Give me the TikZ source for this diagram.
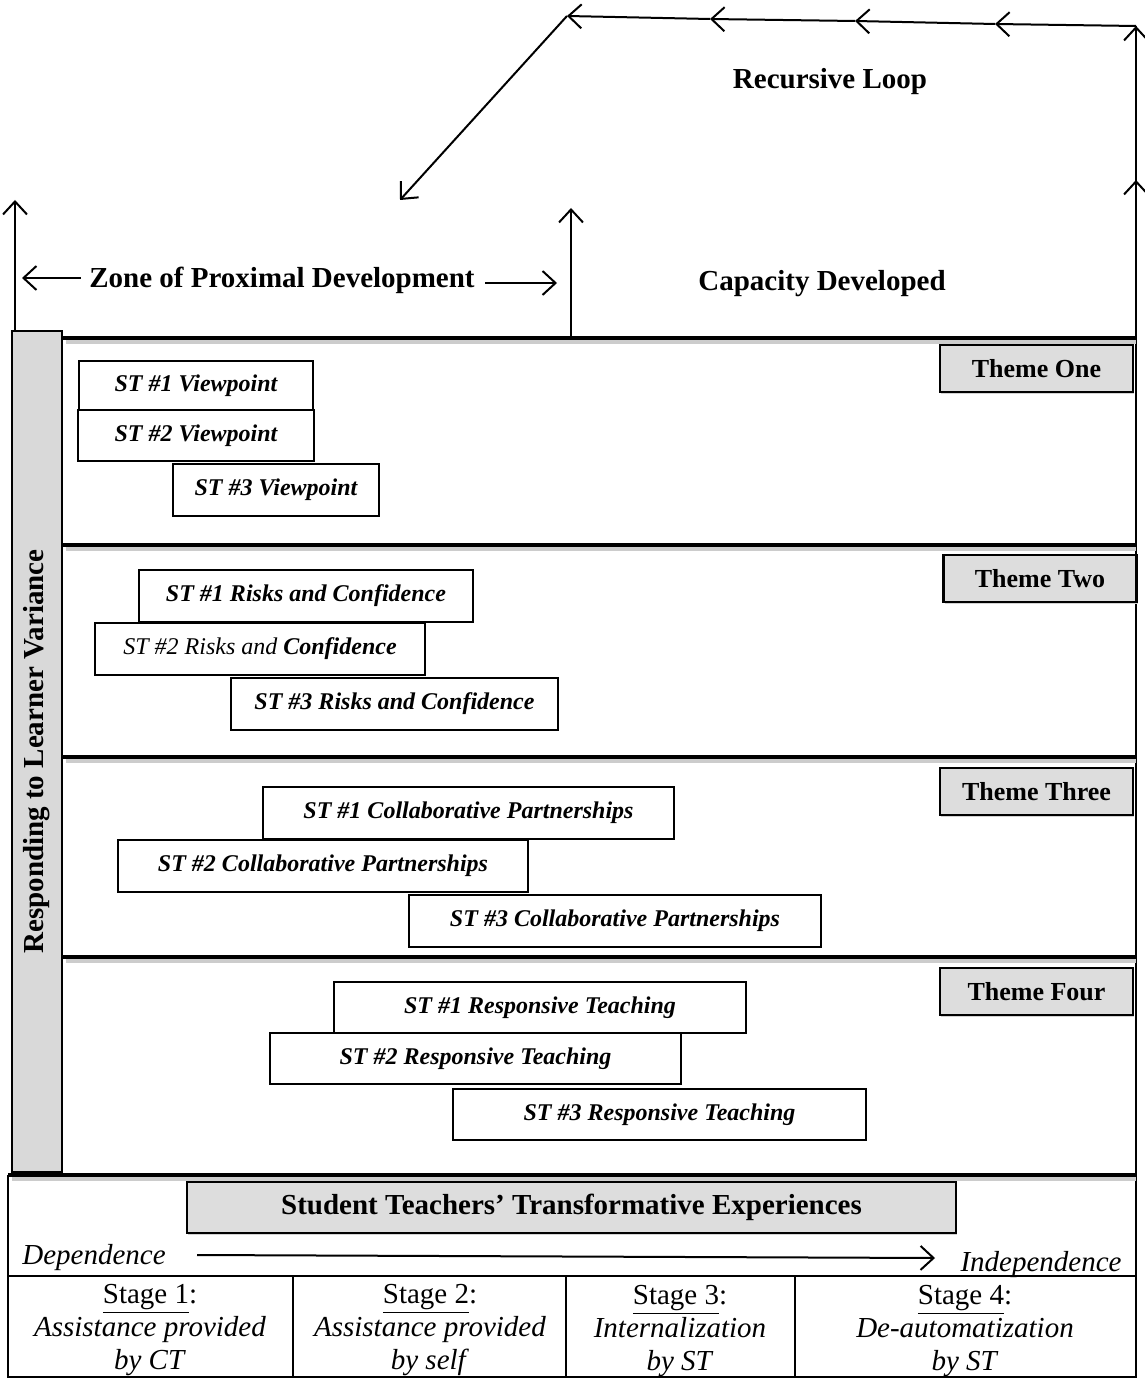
\documentclass[tikz,border=0pt]{standalone}
\usepackage{fontspec}
\setmainfont{Liberation Serif}
\usetikzlibrary{arrows.meta,shadows}
\begin{document}
\begin{tikzpicture}[x=0.5pt,y=-0.5pt,
  arr/.style={line width=1pt,-{Straight Barb[length=6.5pt,width=12pt,line width=1pt]}},
  plain/.style={line width=0.8pt},
  bigtxt/.style={font=\fontsize{14.5}{17}\selectfont\bfseries,inner sep=0pt},
  stbox/.style={draw,line width=1pt,fill=white,font=\fontsize{12}{14}\selectfont\bfseries\itshape,inner sep=0pt},
  themebox/.style={draw,line width=1.1pt,fill=gray!27,font=\fontsize{13}{15}\selectfont\bfseries,inner sep=0pt,
    minimum width=96.5pt,minimum height=23.5pt,drop shadow={shadow xshift=0.6pt,shadow yshift=-1.2pt,fill=gray!35,opacity=1}},
  sepline/.style={line width=2pt},
  sepshadow/.style={line width=1.6pt,gray!40},
  stagetxt/.style={font=\fontsize{14.5}{16.5}\selectfont,align=center,inner sep=0pt},
  ittxt/.style={font=\fontsize{14.5}{16.5}\selectfont\itshape,inner sep=0pt}
]
\useasboundingbox (0,0) rectangle (1144,1379);

% ---------- top labels ----------
\node[bigtxt] (rl) at (830,82) {Recursive Loop};
\node[bigtxt] (zpd) at (282,280) {Zone of Proximal Development};
\node[bigtxt] (cd) at (822,284) {Capacity Developed};

% ---------- loop coordinates ----------
\coordinate (rb) at (1136,338);
\coordinate (rm) at (1136,180);
\coordinate (rt) at (1136,26);
\coordinate (h1) at (995,24);
\coordinate (h2) at (855,21);
\coordinate (h3) at (710,19);
\coordinate (tl) at (567,16);
\coordinate (dg) at (400,200);
\coordinate (mb) at (571,338);
\coordinate (mt) at (571,208);
\coordinate (lb) at (15,331);
\coordinate (lt) at (15,200);
\coordinate (zl) at (22,278);
\coordinate (zr) at (557,283);

\draw[arr] (rb) -- (rm);
\draw[arr] (rm) -- (rt);
\draw[arr] (rt) -- (h1);
\draw[arr] (h1) -- (h2);
\draw[arr] (h2) -- (h3);
\draw[arr] (h3) -- (tl);
\draw[arr] (tl) -- (dg);
\draw[arr] (mb) -- (mt);
\draw[arr] (lb) -- (lt);
\draw[arr] ([xshift=-4pt]zpd.west |- zl) -- (zl);
\draw[arr] ([xshift=5pt]zpd.east |- zr) -- (zr);

% ---------- frame ----------
\draw[plain] (1136,26) -- (1136,1377);
\draw[plain] (8,1175) -- (8,1377) -- (1137,1377);

% separators
\foreach \yy/\xa in {338/62,545/62,757/62,957/62,1175/8}{
  \draw[sepshadow] (\xa+4,\yy+4) -- (1136,\yy+4);
  \draw[sepline] (\xa,\yy) -- (1137,\yy);
}

% left bar
\node[draw,line width=1pt,fill=gray!30,minimum width=25pt,minimum height=420.5pt,inner sep=0pt] (lbar) at (37,751.5) {};
\node[bigtxt,rotate=90] (rlv) at (lbar.center) {Responding to Learner Variance};

% ---------- theme labels ----------
\node[themebox] (th1) at (1036.5,368.5) {Theme One};
\node[themebox] (th2) at (1040,578.5) {Theme Two};
\node[themebox] (th3) at (1036.5,791.5) {Theme Three};
\node[themebox] (th4) at (1036.5,991.5) {Theme Four};

% ---------- ST boxes ----------
\node[stbox,minimum width=117pt,minimum height=24.5pt] (v1) at (196,385.5) {ST \#1 Viewpoint};
\node[stbox,minimum width=118pt,minimum height=25.5pt] (v2) at (196,435.5) {ST \#2 Viewpoint};
\node[stbox,minimum width=103pt,minimum height=26pt] (v3) at (276,490) {ST \#3 Viewpoint};

\node[stbox,minimum width=167pt,minimum height=26pt] (r1) at (306,596) {ST \#1 Risks and Confidence};
\node[stbox,minimum width=165pt,minimum height=26pt,font=\fontsize{12}{14}\selectfont\itshape] (r2) at (260,649) {ST \#2 Risks and \textbf{Confidence}};
\node[stbox,minimum width=163.5pt,minimum height=26pt] (r3) at (394.5,704) {ST \#3 Risks and Confidence};

\node[stbox,minimum width=205.5pt,minimum height=26pt] (c1) at (468.5,813) {ST \#1 Collaborative Partnerships};
\node[stbox,minimum width=205pt,minimum height=26pt] (c2) at (323,866) {ST \#2 Collaborative Partnerships};
\node[stbox,minimum width=206pt,minimum height=26pt] (c3) at (615,921) {ST \#3 Collaborative Partnerships};

\node[stbox,minimum width=206pt,minimum height=25.5pt] (t1) at (540,1007.5) {ST \#1 Responsive Teaching};
\node[stbox,minimum width=205.5pt,minimum height=25.5pt] (t2) at (475.5,1058.5) {ST \#2 Responsive Teaching};
\node[stbox,minimum width=206.5pt,minimum height=25.5pt] (t3) at (659.5,1114.5) {ST \#3 Responsive Teaching};

% ---------- bottom ----------
\node[draw,line width=1.4pt,fill=gray!27,minimum width=384.5pt,minimum height=25.5pt,inner sep=0pt,
  font=\fontsize{14.5}{17}\selectfont\bfseries,
  drop shadow={shadow xshift=0.6pt,shadow yshift=-1.2pt,fill=gray!35,opacity=1}] (ste) at (571.5,1207.5)
  {Student Teachers’ Transformative Experiences};

\node[ittxt,anchor=west] (dep) at (22,1258) {Dependence};
\node[ittxt] (ind) at (1041,1265) {Independence};
\coordinate (da) at (197,1255);
\coordinate (db) at (935,1258);
\draw[arr] (da) -- (db);

% table
\draw[plain] (8,1276) -- (1137,1276);
\draw[plain] (293,1276) -- (293,1377);
\draw[plain] (566,1276) -- (566,1377);
\draw[plain] (795,1276) -- (795,1377);

\node[stagetxt] (s1) at (150,1330) {\underline{Stage 1}:\\ \textit{Assistance provided}\\ \textit{by CT}};
\node[stagetxt] (s2) at (430,1330) {\underline{Stage 2}:\\ \textit{Assistance provided}\\ \textit{by self}};
\node[stagetxt] (s3) at (680,1331) {\underline{Stage 3}:\\ \textit{Internalization}\\ \textit{by ST}};
\node[stagetxt] (s4) at (965,1331) {\underline{Stage 4}:\\ \textit{De-automatization}\\ \textit{by ST}};
\end{tikzpicture}
\end{document}
